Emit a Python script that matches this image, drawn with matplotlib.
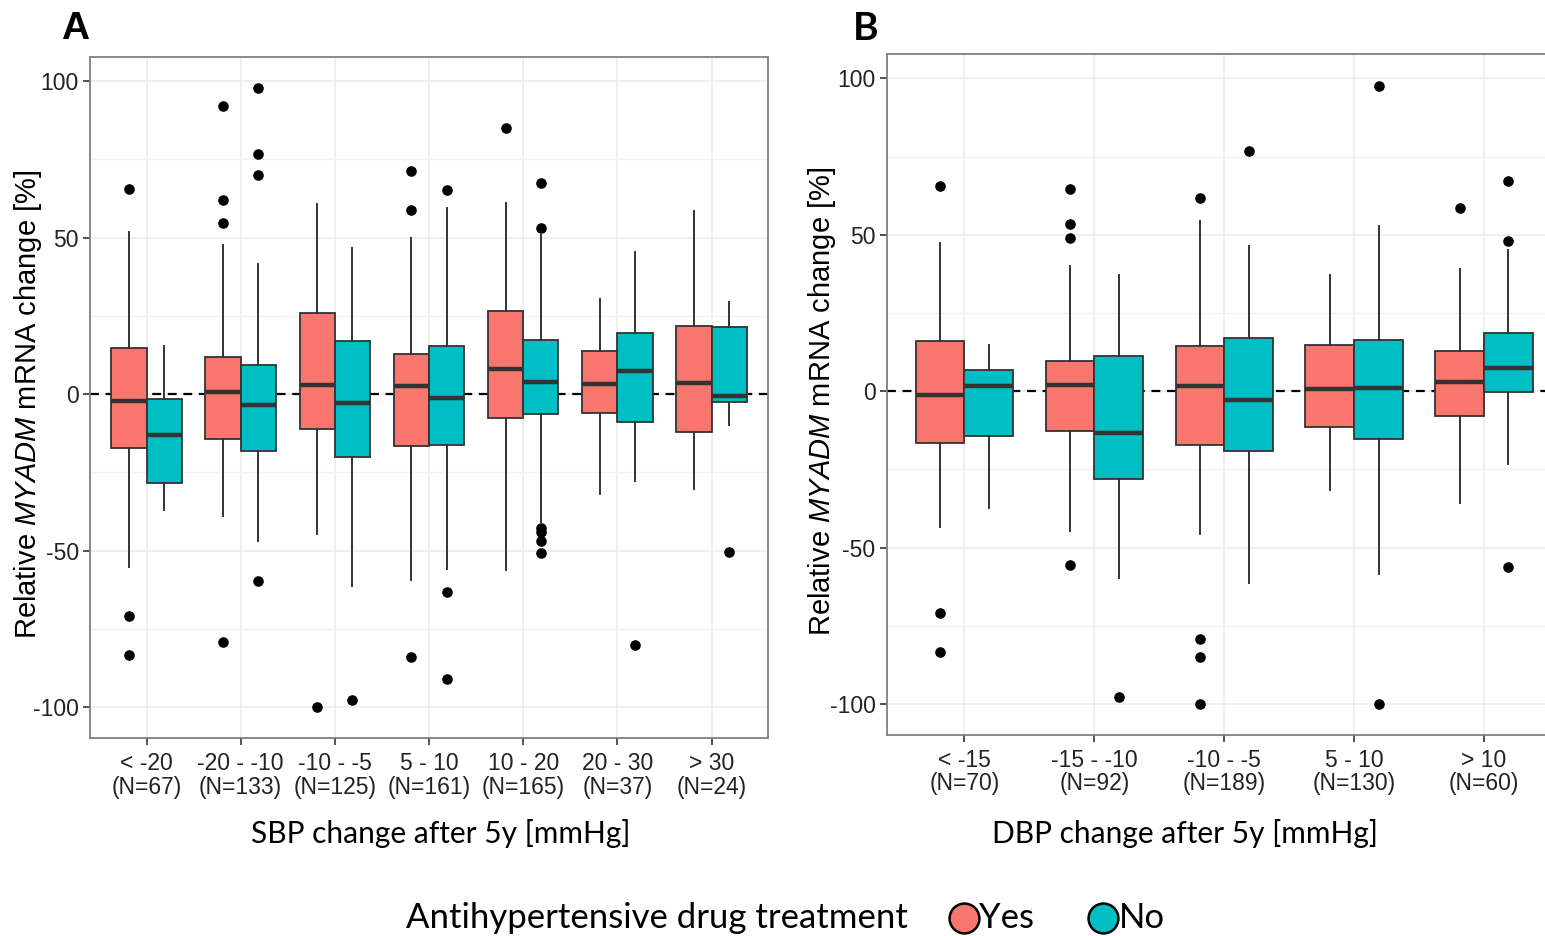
import matplotlib
matplotlib.use("Agg")
import matplotlib.pyplot as plt
from matplotlib.lines import Line2D

# ---------------- data ----------------
sbp_categories = ['< -20\n(N=67)', '-20 - -10\n(N=133)', '-10 - -5\n(N=125)', '5 - 10\n(N=161)',
                  '10 - 20\n(N=165)', '20 - 30\n(N=37)', '> 30\n(N=24)']
dbp_categories = ['< -15\n(N=70)', '-15 - -10\n(N=92)', '-10 - -5\n(N=189)', '5 - 10\n(N=130)',
                  '> 10\n(N=60)']
series_labels = ['Yes', 'No']

# Panel A, treated (Yes)
sbp_yes_whislo = [-55.3, -38.8, -44.7, -59.3, -56.1, -31.8, -30.4]
sbp_yes_q1 = [-17.3, -14.3, -11.0, -16.5, -7.7, -5.9, -12.1]
sbp_yes_med = [-2.2, 0.8, 3.0, 2.6, 8.1, 3.2, 3.6]
sbp_yes_q3 = [14.7, 12.0, 25.8, 12.8, 26.5, 13.9, 21.9]
sbp_yes_whishi = [51.9, 47.7, 60.7, 49.8, 61.2, 30.5, 58.5]
sbp_yes_fliers = [[65.7, -70.8, -83.4], [92.1, 61.9, 54.7, -79.0], [-100.0],
                  [71.4, 58.8, -83.9], [84.9], [], []]

# Panel A, untreated (No)
sbp_no_whislo = [-37.0, -46.9, -61.2, -55.8, -40.7, -27.7, -9.8]
sbp_no_q1 = [-28.4, -18.0, -19.9, -16.1, -6.3, -8.8, -2.5]
sbp_no_med = [-13.1, -3.3, -2.8, -1.2, 3.8, 7.4, -0.6]
sbp_no_q3 = [-1.4, 9.3, 17.0, 15.4, 17.3, 19.4, 21.4]
sbp_no_whishi = [15.5, 41.5, 46.6, 59.6, 50.7, 45.3, 29.4]
sbp_no_fliers = [[], [97.7, 76.8, 70.0, -59.8], [-97.6], [65.2, -63.3, -90.9],
                 [67.4, 53.0, -42.6, -44.0, -46.8, -50.8], [-80.1], [-50.3]]

# Panel B, treated (Yes)
dbp_yes_whislo = [-43.3, -44.7, -45.5, -31.7, -35.7]
dbp_yes_q1 = [-16.7, -12.8, -17.2, -11.4, -8.0]
dbp_yes_med = [-1.3, 1.9, 1.6, 0.6, 2.8]
dbp_yes_q3 = [16.1, 9.8, 14.4, 14.7, 12.8]
dbp_yes_whishi = [47.5, 40.1, 54.5, 37.3, 39.2]
dbp_yes_fliers = [[65.7, -70.8, -83.5], [64.5, 53.6, 48.9, -55.5],
                  [61.8, -79.1, -85.0, -99.9], [], [58.6]]

# Panel B, untreated (No)
dbp_no_whislo = [-37.2, -59.8, -61.4, -58.5, -23.2]
dbp_no_q1 = [-14.2, -28.1, -19.2, -15.3, -0.1]
dbp_no_med = [1.6, -13.3, -2.8, 1.1, 7.3]
dbp_no_q3 = [6.7, 11.3, 16.9, 16.3, 18.5]
dbp_no_whishi = [14.9, 37.3, 46.3, 52.9, 45.2]
dbp_no_fliers = [[], [-97.7], [76.7], [97.6, -99.9], [67.3, 48.0, -56.1]]

y_ticks = [-100, -50, 0, 50, 100]
y_minor = [-75, -25, 25, 75]

# ---------------- style ----------------
W, H = 1545, 936
RED = '#F8766D'
TEAL = '#00BFC4'
EDGE = '#333333'
plt.rcParams['font.family'] = ['Liberation Sans', 'DejaVu Sans']
plt.rcParams['mathtext.fontset'] = 'custom'
plt.rcParams['mathtext.rm'] = 'Liberation Sans'
plt.rcParams['mathtext.it'] = 'Liberation Sans:italic'

fig = plt.figure(figsize=(W / 100, H / 100), dpi=100)


def make_stats(whislo, q1, med, q3, whishi, fliers):
    return [dict(whislo=a, q1=b, med=c, q3=d, whishi=e, fliers=f)
            for a, b, c, d, e, f in zip(whislo, q1, med, q3, whishi, fliers)]


def draw_panel(ax, cats, yes_stats, no_stats, xlim):
    n = len(cats)
    w = 0.375
    ax.set_facecolor('white')
    ax.axhline(0, color='black', lw=1.6, ls=(0, (4, 3)), zorder=1)
    for stats, off, col in ((yes_stats, -w / 2, RED), (no_stats, w / 2, TEAL)):
        pos = [i + off for i in range(n)]
        ax.bxp(stats, positions=pos, widths=w, patch_artist=True, showcaps=False,
               boxprops=dict(facecolor=col, edgecolor=EDGE, linewidth=1.3),
               medianprops=dict(color=EDGE, linewidth=3.2, solid_capstyle='butt'),
               whiskerprops=dict(color=EDGE, linewidth=1.4),
               flierprops=dict(marker='o', markerfacecolor='black', markeredgecolor='black',
                               markersize=6.6, linestyle='none'),
               manage_ticks=False, zorder=3)
    ax.set_xlim(*xlim)
    ax.set_ylim(-109.8, 107.7)
    ax.set_xticks(range(n))
    ax.set_xticklabels(cats, fontsize=16.5, color='#222222', linespacing=1.05)
    ax.set_yticks(y_ticks)
    ax.set_yticklabels([str(v) for v in y_ticks], fontsize=16.5, color='#222222')
    ax.set_yticks(y_minor, minor=True)
    ax.tick_params(axis='y', which='minor', length=0)
    ax.tick_params(axis='both', which='major', length=5, width=1.2, color='#333333', pad=3)
    ax.tick_params(axis='x', which='major', pad=5)
    ax.grid(True, which='major', color='#ebebeb', lw=1.1, zorder=0)
    ax.grid(True, which='minor', axis='y', color='#f3f3f3', lw=1.0, zorder=0)
    ax.set_axisbelow(True)
    for s in ax.spines.values():
        s.set_color('#7f7f7f')
        s.set_linewidth(1.3)
    ax.set_ylabel('Relative $\\it{MYADM}$ mRNA change [%]', fontsize=21, va='center')


axA = fig.add_axes([90 / W, 1 - 738 / H, 678 / W, 681 / H])
draw_panel(axA, sbp_categories,
           make_stats(sbp_yes_whislo, sbp_yes_q1, sbp_yes_med, sbp_yes_q3, sbp_yes_whishi, sbp_yes_fliers),
           make_stats(sbp_no_whislo, sbp_no_q1, sbp_no_med, sbp_no_q3, sbp_no_whishi, sbp_no_fliers),
           (-0.6, 6.6))
axA.yaxis.set_label_coords((28 - 90) / 678, 0.49)

axB = fig.add_axes([886.5 / W, 1 - 734.7 / H, (1562 - 886.5) / W, 680.4 / H])
draw_panel(axB, dbp_categories,
           make_stats(dbp_yes_whislo, dbp_yes_q1, dbp_yes_med, dbp_yes_q3, dbp_yes_whishi, dbp_yes_fliers),
           make_stats(dbp_no_whislo, dbp_no_q1, dbp_no_med, dbp_no_q3, dbp_no_whishi, dbp_no_fliers),
           (-0.6, 4.6))
axB.yaxis.set_label_coords((822 - 886.5) / 675.5, 0.49)

# axis titles
fig.text(441 / W, 1 - 833 / H, 'SBP change after 5y [mmHg]', fontsize=21.5, family='Lato',
         ha='center', va='center')
fig.text(1185 / W, 1 - 833 / H, 'DBP change after 5y [mmHg]', fontsize=21.5, family='Lato',
         ha='center', va='center')

# panel letters
fig.text(75 / W, 1 - 29 / H, 'A', fontsize=28, fontweight='bold', ha='center', va='center')
fig.text(866 / W, 1 - 29 / H, 'B', fontsize=28, fontweight='bold', family='Lato',
         ha='center', va='center')

# legend
ly = 1 - 918 / H
fig.text(406 / W, ly, 'Antihypertensive drug treatment', fontsize=25, family='Lato',
         ha='left', va='center')
for x_c, x_t, col, lab in ((964, 979, RED, series_labels[0]), (1103, 1119, TEAL, series_labels[1])):
    fig.add_artist(Line2D([x_c / W], [ly], transform=fig.transFigure, marker='o',
                          linestyle='none', markersize=21.5, markerfacecolor=col,
                          markeredgecolor='black', markeredgewidth=1.8))
    fig.text(x_t / W, ly, lab, fontsize=25, family='Lato', ha='left', va='center')

fig.savefig('out.png', dpi=100)
